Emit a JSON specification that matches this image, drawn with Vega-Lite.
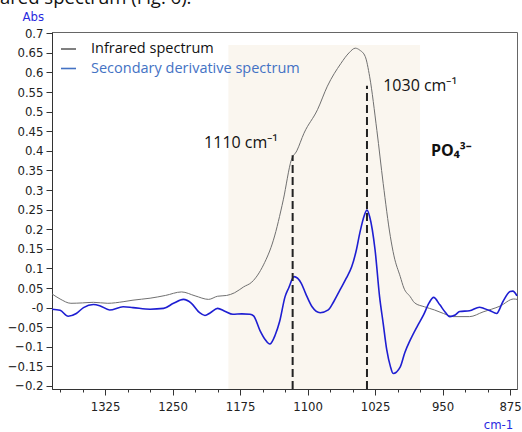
{
  "$schema": "https://vega.github.io/schema/vega-lite/v6.json",
  "width": 465,
  "height": 357,
  "autosize": {"type": "none"},
  "padding": {"left": 52, "top": 32, "right": 5, "bottom": 43},
  "title": {"text": "ared spectrum (Fig. 6).", "anchor": "start", "frame": "group", "dx": -52, "dy": 22, "font": "Open Sans", "fontSize": 18.5, "fontWeight": "normal", "color": "#111", "baseline": "alphabetic", "offset": 10},
  "config": {
    "view": {"stroke": "#666", "strokeWidth": 1},
    "axis": {"domainColor": "#333", "tickColor": "#333", "labelColor": "#222", "labelFont": "DejaVu Sans Condensed, DejaVu Sans", "labelFontSize": 13, "grid": false, "labelOverlap": false}
  },
  "datasets": {
    "spectra": [
      {"wn": 1384, "abs": 0.035, "series": "Infrared spectrum"},
      {"wn": 1375, "abs": 0.022, "series": "Infrared spectrum"},
      {"wn": 1363, "abs": 0.011, "series": "Infrared spectrum"},
      {"wn": 1350, "abs": 0.012, "series": "Infrared spectrum"},
      {"wn": 1338, "abs": 0.0135, "series": "Infrared spectrum"},
      {"wn": 1322, "abs": 0.011, "series": "Infrared spectrum"},
      {"wn": 1305, "abs": 0.015, "series": "Infrared spectrum"},
      {"wn": 1294, "abs": 0.019, "series": "Infrared spectrum"},
      {"wn": 1275, "abs": 0.024, "series": "Infrared spectrum"},
      {"wn": 1258, "abs": 0.031, "series": "Infrared spectrum"},
      {"wn": 1240, "abs": 0.040, "series": "Infrared spectrum"},
      {"wn": 1225, "abs": 0.030, "series": "Infrared spectrum"},
      {"wn": 1210, "abs": 0.021, "series": "Infrared spectrum"},
      {"wn": 1200, "abs": 0.029, "series": "Infrared spectrum"},
      {"wn": 1190, "abs": 0.031, "series": "Infrared spectrum"},
      {"wn": 1181, "abs": 0.038, "series": "Infrared spectrum"},
      {"wn": 1171, "abs": 0.053, "series": "Infrared spectrum"},
      {"wn": 1162, "abs": 0.065, "series": "Infrared spectrum"},
      {"wn": 1149, "abs": 0.109, "series": "Infrared spectrum"},
      {"wn": 1138, "abs": 0.172, "series": "Infrared spectrum"},
      {"wn": 1127, "abs": 0.275, "series": "Infrared spectrum"},
      {"wn": 1118, "abs": 0.377, "series": "Infrared spectrum"},
      {"wn": 1112, "abs": 0.400, "series": "Infrared spectrum"},
      {"wn": 1104, "abs": 0.445, "series": "Infrared spectrum"},
      {"wn": 1089, "abs": 0.505, "series": "Infrared spectrum"},
      {"wn": 1078, "abs": 0.565, "series": "Infrared spectrum"},
      {"wn": 1063, "abs": 0.623, "series": "Infrared spectrum"},
      {"wn": 1054, "abs": 0.650, "series": "Infrared spectrum"},
      {"wn": 1047, "abs": 0.662, "series": "Infrared spectrum"},
      {"wn": 1042, "abs": 0.657, "series": "Infrared spectrum"},
      {"wn": 1036, "abs": 0.641, "series": "Infrared spectrum"},
      {"wn": 1031, "abs": 0.589, "series": "Infrared spectrum"},
      {"wn": 1023, "abs": 0.452, "series": "Infrared spectrum"},
      {"wn": 1016, "abs": 0.317, "series": "Infrared spectrum"},
      {"wn": 1008, "abs": 0.181, "series": "Infrared spectrum"},
      {"wn": 1004, "abs": 0.132, "series": "Infrared spectrum"},
      {"wn": 997, "abs": 0.079, "series": "Infrared spectrum"},
      {"wn": 993, "abs": 0.050, "series": "Infrared spectrum"},
      {"wn": 986, "abs": 0.028, "series": "Infrared spectrum"},
      {"wn": 981, "abs": 0.012, "series": "Infrared spectrum"},
      {"wn": 970, "abs": 0.002, "series": "Infrared spectrum"},
      {"wn": 959, "abs": -0.006, "series": "Infrared spectrum"},
      {"wn": 949, "abs": -0.015, "series": "Infrared spectrum"},
      {"wn": 938, "abs": -0.023, "series": "Infrared spectrum"},
      {"wn": 920, "abs": -0.023, "series": "Infrared spectrum"},
      {"wn": 905, "abs": -0.011, "series": "Infrared spectrum"},
      {"wn": 886, "abs": 0.004, "series": "Infrared spectrum"},
      {"wn": 871, "abs": 0.022, "series": "Infrared spectrum"},
      {"wn": 867.3, "abs": 0.021, "series": "Infrared spectrum"},
      {"wn": 1384, "abs": -0.004, "series": "Secondary derivative spectrum"},
      {"wn": 1375, "abs": -0.007, "series": "Secondary derivative spectrum"},
      {"wn": 1366, "abs": -0.022, "series": "Secondary derivative spectrum"},
      {"wn": 1357, "abs": -0.015, "series": "Secondary derivative spectrum"},
      {"wn": 1349, "abs": 0.0, "series": "Secondary derivative spectrum"},
      {"wn": 1338, "abs": 0.008, "series": "Secondary derivative spectrum"},
      {"wn": 1331, "abs": 0.005, "series": "Secondary derivative spectrum"},
      {"wn": 1320, "abs": -0.006, "series": "Secondary derivative spectrum"},
      {"wn": 1305, "abs": 0.002, "series": "Secondary derivative spectrum"},
      {"wn": 1294, "abs": 0.0, "series": "Secondary derivative spectrum"},
      {"wn": 1275, "abs": -0.004, "series": "Secondary derivative spectrum"},
      {"wn": 1260, "abs": -0.002, "series": "Secondary derivative spectrum"},
      {"wn": 1249, "abs": 0.011, "series": "Secondary derivative spectrum"},
      {"wn": 1238, "abs": 0.021, "series": "Secondary derivative spectrum"},
      {"wn": 1229, "abs": 0.011, "series": "Secondary derivative spectrum"},
      {"wn": 1220, "abs": -0.013, "series": "Secondary derivative spectrum"},
      {"wn": 1214, "abs": -0.020, "series": "Secondary derivative spectrum"},
      {"wn": 1208, "abs": -0.013, "series": "Secondary derivative spectrum"},
      {"wn": 1200, "abs": -0.002, "series": "Secondary derivative spectrum"},
      {"wn": 1192, "abs": -0.009, "series": "Secondary derivative spectrum"},
      {"wn": 1183, "abs": -0.017, "series": "Secondary derivative spectrum"},
      {"wn": 1173, "abs": -0.016, "series": "Secondary derivative spectrum"},
      {"wn": 1164, "abs": -0.017, "series": "Secondary derivative spectrum"},
      {"wn": 1160, "abs": -0.021, "series": "Secondary derivative spectrum"},
      {"wn": 1153, "abs": -0.058, "series": "Secondary derivative spectrum"},
      {"wn": 1147, "abs": -0.082, "series": "Secondary derivative spectrum"},
      {"wn": 1142, "abs": -0.093, "series": "Secondary derivative spectrum"},
      {"wn": 1136, "abs": -0.070, "series": "Secondary derivative spectrum"},
      {"wn": 1131, "abs": -0.035, "series": "Secondary derivative spectrum"},
      {"wn": 1125, "abs": 0.028, "series": "Secondary derivative spectrum"},
      {"wn": 1121, "abs": 0.050, "series": "Secondary derivative spectrum"},
      {"wn": 1115, "abs": 0.079, "series": "Secondary derivative spectrum"},
      {"wn": 1107, "abs": 0.062, "series": "Secondary derivative spectrum"},
      {"wn": 1102, "abs": 0.035, "series": "Secondary derivative spectrum"},
      {"wn": 1095, "abs": 0.002, "series": "Secondary derivative spectrum"},
      {"wn": 1086, "abs": -0.013, "series": "Secondary derivative spectrum"},
      {"wn": 1077, "abs": -0.006, "series": "Secondary derivative spectrum"},
      {"wn": 1071, "abs": 0.015, "series": "Secondary derivative spectrum"},
      {"wn": 1064, "abs": 0.045, "series": "Secondary derivative spectrum"},
      {"wn": 1057, "abs": 0.075, "series": "Secondary derivative spectrum"},
      {"wn": 1051, "abs": 0.104, "series": "Secondary derivative spectrum"},
      {"wn": 1046, "abs": 0.145, "series": "Secondary derivative spectrum"},
      {"wn": 1042, "abs": 0.190, "series": "Secondary derivative spectrum"},
      {"wn": 1037, "abs": 0.235, "series": "Secondary derivative spectrum"},
      {"wn": 1034, "abs": 0.249, "series": "Secondary derivative spectrum"},
      {"wn": 1031, "abs": 0.232, "series": "Secondary derivative spectrum"},
      {"wn": 1025, "abs": 0.147, "series": "Secondary derivative spectrum"},
      {"wn": 1020, "abs": 0.028, "series": "Secondary derivative spectrum"},
      {"wn": 1016, "abs": -0.040, "series": "Secondary derivative spectrum"},
      {"wn": 1012, "abs": -0.108, "series": "Secondary derivative spectrum"},
      {"wn": 1008, "abs": -0.150, "series": "Secondary derivative spectrum"},
      {"wn": 1005, "abs": -0.168, "series": "Secondary derivative spectrum"},
      {"wn": 997, "abs": -0.151, "series": "Secondary derivative spectrum"},
      {"wn": 992, "abs": -0.115, "series": "Secondary derivative spectrum"},
      {"wn": 986, "abs": -0.083, "series": "Secondary derivative spectrum"},
      {"wn": 978, "abs": -0.047, "series": "Secondary derivative spectrum"},
      {"wn": 971, "abs": -0.018, "series": "Secondary derivative spectrum"},
      {"wn": 965, "abs": 0.012, "series": "Secondary derivative spectrum"},
      {"wn": 960, "abs": 0.026, "series": "Secondary derivative spectrum"},
      {"wn": 953, "abs": 0.007, "series": "Secondary derivative spectrum"},
      {"wn": 947, "abs": -0.012, "series": "Secondary derivative spectrum"},
      {"wn": 942, "abs": -0.023, "series": "Secondary derivative spectrum"},
      {"wn": 936, "abs": -0.019, "series": "Secondary derivative spectrum"},
      {"wn": 931, "abs": -0.010, "series": "Secondary derivative spectrum"},
      {"wn": 920, "abs": -0.008, "series": "Secondary derivative spectrum"},
      {"wn": 909, "abs": 0.001, "series": "Secondary derivative spectrum"},
      {"wn": 904, "abs": -0.002, "series": "Secondary derivative spectrum"},
      {"wn": 897, "abs": -0.008, "series": "Secondary derivative spectrum"},
      {"wn": 890, "abs": -0.015, "series": "Secondary derivative spectrum"},
      {"wn": 883, "abs": 0.015, "series": "Secondary derivative spectrum"},
      {"wn": 875, "abs": 0.041, "series": "Secondary derivative spectrum"},
      {"wn": 872, "abs": 0.042, "series": "Secondary derivative spectrum"},
      {"wn": 867.3, "abs": 0.030, "series": "Secondary derivative spectrum"}
    ]
  },
  "encoding": {
    "x": {"field": "wn", "type": "quantitative",
      "scale": {"domain": [867.3, 1384], "reverse": true, "nice": false, "zero": false},
      "axis": {"values": [875, 900, 925, 950, 975, 1000, 1025, 1050, 1075, 1100, 1125, 1150, 1175, 1200, 1225, 1250, 1275, 1300, 1325, 1350, 1375],
        "labelExpr": "(datum.value - 875) % 75 == 0 ? datum.value : ''",
        "labelOverlap": false,
        "tickSize": {"condition": {"test": "(datum.value - 875) % 75 == 0", "value": 6}, "value": 3},
        "labelPadding": 5,
        "title": "cm-1", "titleColor": "#2a2ae0", "titleFont": "DejaVu Sans Condensed, DejaVu Sans", "titleFontSize": 13, "titleFontWeight": "normal",
        "titleX": 446, "titleY": 35, "titleAlign": "center", "titleBaseline": "middle"}},
    "y": {"field": "abs", "type": "quantitative",
      "scale": {"domain": [-0.2077, 0.7033], "nice": false, "zero": false},
      "axis": {"values": [-0.2, -0.15, -0.1, -0.05, 0, 0.05, 0.1, 0.15, 0.2, 0.25, 0.3, 0.35, 0.4, 0.45, 0.5, 0.55, 0.6, 0.65, 0.7],
        "labelExpr": "datum.value == 0 ? '-0' : format(datum.value, '.2~f')",
        "labelOverlap": false,
        "tickSize": 6, "labelPadding": 3,
        "title": "Abs", "titleAngle": 0, "titleColor": "#2a2ae0", "titleFont": "DejaVu Sans Condensed, DejaVu Sans", "titleFontSize": 13, "titleFontWeight": "normal",
        "titleX": -30, "titleY": -16, "titleAlign": "left", "titleBaseline": "middle"}}
  },
  "layer": [
    {
      "data": {"values": [{"wn": 1188, "wn2": 975, "abs": -0.2077, "abs2": 0.67}]},
      "mark": {"type": "rect", "color": "#faf6ef"},
      "encoding": {
        "x2": {"field": "wn2"},
        "y2": {"field": "abs2"}
      }
    },
    {
      "data": {"name": "spectra"},
      "mark": {"type": "line", "opacity": 0},
      "encoding": {
        "stroke": {"field": "series", "type": "nominal",
          "scale": {"domain": ["Infrared spectrum", "Secondary derivative spectrum"], "range": ["#000000", "#4472c4"]},
          "legend": {"title": null, "orient": "none", "legendX": 8, "legendY": 9, "symbolType": "stroke", "symbolSize": 225, "symbolStrokeWidth": 2.5, "symbolOpacity": 1,
            "labelFont": "Open Sans", "labelFontSize": 14.5, "labelOffset": 14, "rowPadding": 4, "labelLimit": 400,
            "encode": {
              "symbols": {"update": {"opacity": {"value": 1}}},
              "labels": {"update": {"fill": {"signal": "datum.label === 'Infrared spectrum' ? '#111111' : '#4472c4'"}}}
            }}}
      }
    },
    {
      "data": {"name": "spectra"},
      "mark": {"type": "line", "interpolate": "monotone"},
      "encoding": {
        "color": {"field": "series", "type": "nominal",
          "scale": {"domain": ["Infrared spectrum", "Secondary derivative spectrum"], "range": ["#707070", "#1e1ed2"]},
          "legend": null},
        "strokeWidth": {"field": "series", "type": "nominal",
          "scale": {"domain": ["Infrared spectrum", "Secondary derivative spectrum"], "range": [1, 1.6]}, "legend": null}
      }
    },
    {
      "data": {"values": [{"wn": 1116.6, "abs": -0.2077, "abs2": 0.389}, {"wn": 1034, "abs": -0.2077, "abs2": 0.566}]},
      "mark": {"type": "rule", "color": "#222", "strokeWidth": 2, "strokeDash": [8, 4]},
      "encoding": {
        "y2": {"field": "abs2"}
      }
    },
    {
      "data": {"values": [{"wn": 1174, "abs": 0.42, "label": "1110 cm⁻¹"}, {"wn": 975, "abs": 0.565, "label": "1030 cm⁻¹"}]},
      "mark": {"type": "text", "font": "Open Sans", "fontSize": 16, "color": "#111", "align": "center", "baseline": "middle"},
      "encoding": {
        "text": {"field": "label"}
      }
    },
    {
      "data": {"values": [{"wn": 940.7, "abs": 0.40, "label": "PO₄³⁻"}]},
      "mark": {"type": "text", "font": "Open Sans", "fontSize": 16, "fontWeight": "bold", "color": "#111", "align": "center", "baseline": "middle"},
      "encoding": {
        "text": {"field": "label"}
      }
    }
  ]
}
